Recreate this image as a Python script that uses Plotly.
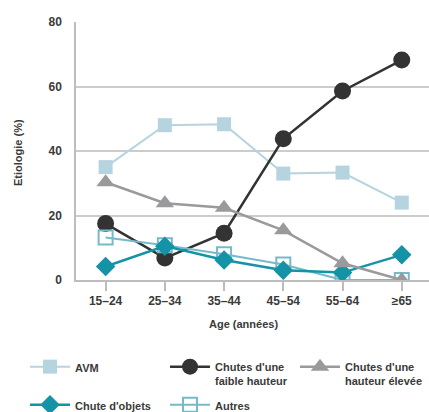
import plotly.graph_objects as go

ages = ["15–24", "25–34", "35–44", "45–54", "55–64", "≥65"]
avm = [35, 48, 48.3, 33, 33.3, 24]
chutes_faible = [17.5, 6.8, 14.5, 43.8, 58.6, 68.2]
chutes_elevee = [30.3, 23.8, 22.4, 15.4, 5.2, 0]
chute_objets = [4.2, 10.5, 6.2, 3, 2.3, 7.8]
autres = [13.2, 10.8, 8, 4.8, 0, 0]

FONT = "Liberation Sans Narrow, Liberation Sans, Arial, sans-serif"
TXT = "#3a3a3a"

fig = go.Figure()
fig.add_trace(go.Scatter(x=ages, y=avm, name="AVM", mode="lines+markers",
                         line=dict(color="#b5d4df", width=2),
                         marker=dict(symbol="square", size=14, color="#b5d4df"),
                         legend="legend"))
fig.add_trace(go.Scatter(x=ages, y=chutes_faible, name="Chutes d'une<br>faible hauteur",
                         mode="lines+markers", line=dict(color="#333333", width=2.5),
                         marker=dict(symbol="circle", size=17, color="#333333"),
                         legend="legend2"))
fig.add_trace(go.Scatter(x=ages, y=autres, name="Autres", mode="lines+markers",
                         line=dict(color="#76bac9", width=2),
                         marker=dict(symbol="square-open", size=14, color="#76bac9",
                                     line=dict(width=2)),
                         legend="legend5"))
fig.add_trace(go.Scatter(x=ages, y=chute_objets, name="Chute d'objets", mode="lines+markers",
                         line=dict(color="#1492a6", width=2.5),
                         marker=dict(symbol="diamond", size=15, color="#1492a6"),
                         legend="legend4"))
fig.add_trace(go.Scatter(x=ages, y=chutes_elevee, name="Chutes d'une<br>hauteur élevée",
                         mode="lines+markers", line=dict(color="#9a9a9c", width=2.5),
                         marker=dict(symbol="triangle-up", size=16, color="#9a9a9c"),
                         legend="legend3"))

W, H = 429, 412


def leg(px, py):
    return dict(xref="container", yref="container", x=px / W, y=1 - py / H,
                xanchor="left", yanchor="top", bgcolor="rgba(0,0,0,0)",
                font=dict(family=FONT, size=11, color=TXT, weight="bold"),
                itemwidth=40, valign="top", borderwidth=0)


fig.update_layout(
    width=W, height=H,
    margin=dict(l=76, r=0, t=22, b=132, autoexpand=False),
    paper_bgcolor="white", plot_bgcolor="white",
    font=dict(family=FONT, size=12, color=TXT),
    showlegend=True,
    legend=leg(25, 353),
    legend2=leg(165, 353),
    legend3=leg(295, 353),
    legend4=leg(25, 391),
    legend5=leg(165, 391),
    xaxis=dict(type="category", categoryorder="array", categoryarray=ages,
               range=[-0.5, 5.46], showgrid=False, zeroline=False,
               showline=True, linecolor="#bdbdbd", linewidth=1.5,
               ticks="outside", ticklen=9, tickcolor="#bdbdbd", tickwidth=1.5,
               tickfont=dict(family=FONT, size=12, color=TXT, weight="bold")),
    yaxis=dict(range=[0, 80], tickvals=[0, 20, 40, 60, 80], showgrid=True,
               gridcolor="#cccccc", gridwidth=1.5, zeroline=False,
               showline=True, linecolor="#bdbdbd", linewidth=1.5, ticks="",
               ticklabelstandoff=10,
               tickfont=dict(family=FONT, size=12, color=TXT, weight="bold")),
    annotations=[
        dict(text="Age (années)", xref="paper", yref="paper", x=(243 - 76) / 353,
             y=1 - (324 - 22) / 258, xanchor="center", yanchor="middle",
             showarrow=False, font=dict(family=FONT, size=11, color=TXT, weight="bold")),
        dict(text="Etiologie (%)", xref="paper", yref="paper", x=-(76 - 18) / 353,
             y=1 - (152 - 22) / 258, xanchor="center", yanchor="middle",
             textangle=-90, showarrow=False,
             font=dict(family=FONT, size=11, color=TXT, weight="bold")),
    ],
)

fig.write_html("out.html", config={"displayModeBar": False},
               post_script="document.body.style.margin='0';document.body.style.overflow='hidden';")
